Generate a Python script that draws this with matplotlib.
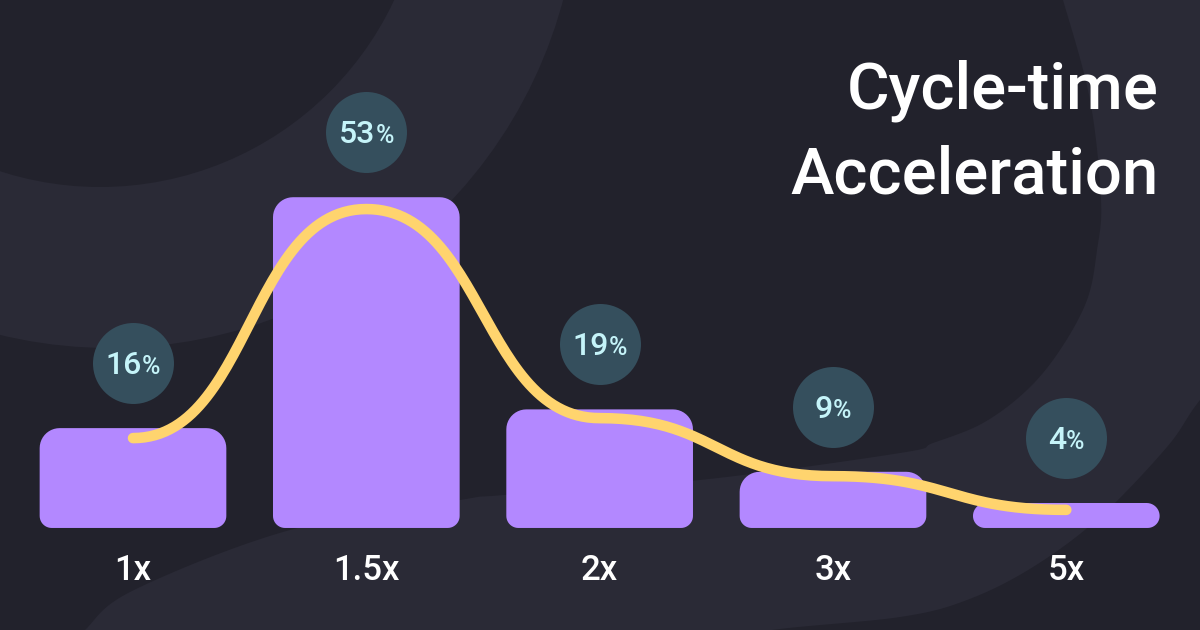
import numpy as np
import matplotlib.pyplot as plt
from matplotlib.patches import Polygon, Circle, Rectangle

plt.rcParams['font.family'] = ['Roboto', 'DejaVu Sans']

# data
categories = ['1x', '1.5x', '2x', '3x', '5x']
shares = [16, 53, 19, 9, 4]
trend = [14.4, 51.1, 17.6, 8.3, 2.9]
title_lines = ['Cycle-time', 'Acceleration']

bg_dark = '#22222c'
bg_light = '#2a2a36'
bar_color = '#b388ff'
line_color = '#ffd46e'
bubble_color = '#354f5d'
bubble_text = '#c5f4f9'


def catmull(pts, n=24):
    p = np.asarray(pts, float)
    p = np.vstack([2 * p[0] - p[1], p, 2 * p[-1] - p[-2]])
    t = np.linspace(0, 1, n, endpoint=False)[:, None]
    out = []
    for i in range(1, len(p) - 2):
        p0, p1, p2, p3 = p[i - 1], p[i], p[i + 1], p[i + 2]
        out.append(0.5 * (2 * p1 + (-p0 + p2) * t
                          + (2 * p0 - 5 * p1 + 4 * p2 - p3) * t ** 2
                          + (-p0 + 3 * p1 - 3 * p2 + p3) * t ** 3))
    out.append(p[-2][None])
    return np.vstack(out)


fig = plt.figure(figsize=(12, 6.3), dpi=100)

# background blobs, in pixel coordinates
bg = fig.add_axes([0, 0, 1, 1])
bg.set_xlim(0, 1200)
bg.set_ylim(630, 0)
bg.axis('off')
bg.add_patch(Rectangle((-10, -10), 1220, 650, color=bg_dark, lw=0))

outer = catmull([(1260, 330), (1200, 400), (1167, 447), (1100, 517), (1033, 567),
                 (967, 600), (900, 617), (772, 630), (700, 645)])
outer = np.vstack([outer, [(-50, 700), (-50, -50), (1260, -50)]])
bg.add_patch(Polygon(outer, closed=True, color=bg_light, lw=0))

mid = catmull([(1050, -40), (1063, 0), (1090, 100), (1101, 200), (1097, 250),
               (1087, 300), (1060, 350), (1027, 390), (983, 423), (933, 443),
               (900, 453), (700, 480), (504, 495), (460, 500), (290, 530),
               (134, 590), (85, 630), (60, 660)])
mid = np.vstack([mid, [(-50, 660), (-50, -50), (1050, -50)]])
bg.add_patch(Polygon(mid, closed=True, color=bg_dark, lw=0))

bg.add_patch(Circle((110, -121), 469, color=bg_light, lw=0))
bg.add_patch(Circle((100, -138), 325, color=bg_dark, lw=0))

# chart axes
ax = fig.add_axes([0, 0, 1, 1])
ax.set_xlim(-0.57, 4.573)
ax.set_ylim(-16.35, 84.6)
ax.axis('off')
ax.patch.set_alpha(0)

sx = 1200 / (4.573 + 0.57)
sy = 630 / (84.6 + 16.35)


def rounded_bar(ax, xc, w, h, rt, rb, color):
    rb = min(rb, h * sy / 2)
    rt = min(rt, h * sy - rb)
    rtx, rty = rt / sx, rt / sy
    rbx, rby = rb / sx, rb / sy
    x0, x1 = xc - w / 2, xc + w / 2
    a = np.linspace(0, np.pi / 2, 12)
    pts = []
    pts += list(zip(x1 - rbx + rbx * np.sin(a), rby - rby * np.cos(a)))
    pts += list(zip(x1 - rtx + rtx * np.cos(a), h - rty + rty * np.sin(a)))
    pts += list(zip(x0 + rtx - rtx * np.sin(a), h - rty + rty * np.cos(a)))
    pts += list(zip(x0 + rbx - rbx * np.cos(a), rby - rby * np.sin(a)))
    ax.add_patch(Polygon(pts, closed=True, color=color, lw=0, zorder=2))


xs = np.arange(len(categories))
for i, v in enumerate(shares):
    rounded_bar(ax, xs[i], 0.8, v, 20, 12, bar_color)

# smooth trend line, horizontal tangents at each point
cx, cy = [], []
t = np.linspace(0, 1, 60)[:, None]
for i in range(len(trend) - 1):
    p0 = np.array([xs[i], trend[i]])
    p3 = np.array([xs[i + 1], trend[i + 1]])
    xm = (p0[0] + p3[0]) / 2
    p1 = np.array([xm, p0[1]])
    p2 = np.array([xm, p3[1]])
    seg = ((1 - t) ** 3) * p0 + 3 * ((1 - t) ** 2) * t * p1 + 3 * (1 - t) * t ** 2 * p2 + t ** 3 * p3
    cx += list(seg[:, 0])
    cy += list(seg[:, 1])
ax.plot(cx, cy, color=line_color, lw=7.6, solid_capstyle='round', zorder=3)

# bubbles with values
bub_y = np.array(shares) + 65 / sy
ax.scatter(xs, bub_y, s=(81 * 0.72) ** 2, color=bubble_color, linewidths=0, zorder=4)

renderer = fig.canvas.get_renderer()
for i, v in enumerate(shares):
    base = bub_y[i] - 11 / sy
    tn = ax.text(xs[i], base, str(v), fontsize=23, color=bubble_text,
                 ha='left', va='baseline', zorder=5, fontweight='medium')
    tp = ax.text(xs[i], base, '%', fontsize=18, color=bubble_text,
                 ha='left', va='baseline', zorder=5, fontweight='medium')
    wn = tn.get_window_extent(renderer).width
    wp = tp.get_window_extent(renderer).width
    left = xs[i] - (wn + wp) / 2 / sx
    tn.set_x(left)
    tp.set_x(left + wn / sx)

for i, c in enumerate(categories):
    ax.text(xs[i], -52 / sy, c, fontsize=25, color='white', ha='center',
            va='baseline', fontweight='medium')

fig.text(1159 / 1200, 1 - 108 / 630, title_lines[0], fontsize=47, color='white',
         ha='right', va='baseline', fontweight='medium')
fig.text(1159 / 1200, 1 - 193 / 630, title_lines[1], fontsize=47, color='white',
         ha='right', va='baseline', fontweight='medium')

fig.savefig('out.png', dpi=100)
